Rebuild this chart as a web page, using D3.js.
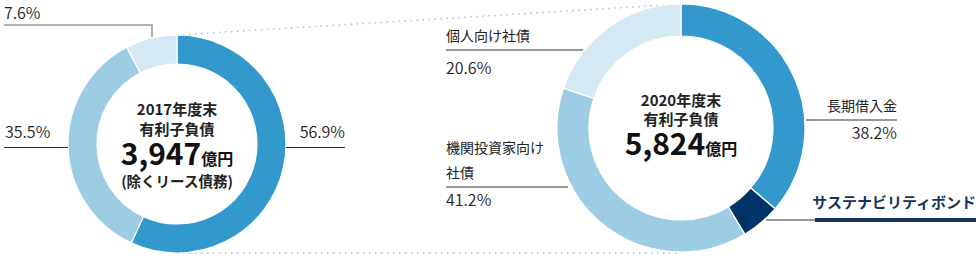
<!DOCTYPE html>
<html>
<head>
<meta charset="utf-8">
<script src="https://cdn.jsdelivr.net/npm/d3@7"></script>
<style>
body { margin: 0; background: #fff; }
svg { display: block; font-family: "Noto Sans CJK JP", "Noto Sans", sans-serif; }
</style>
</head>
<body>
<svg id="chart" width="980" height="260"></svg>
<script>
// 2017 donut
var leftNames = ["長期借入金", "機関投資家向け社債", "個人向け社債"];
var leftValues = [56.9, 35.5, 7.6];
var leftLabels = ["56.9%", "35.5%", "7.6%"];

// 2020 donut (arc sizes as drawn in the picture)
var rightNames = ["長期借入金", "サステナビリティボンド", "機関投資家向け社債", "個人向け社債"];
var rightValues = [36.3, 5.1, 38.8, 19.8];
var rightLabels = ["38.2%", "", "41.2%", "20.6%"];

var colors = ["#3399cc", "#9ccde5", "#d5e9f5"];
var rightColors = ["#3399cc", "#003366", "#9ccde5", "#d5e9f5"];
var navy = "#15355f";

var svg = d3.select("#chart");
var pie = d3.pie().sort(null).value(function (d) { return d; });

// dotted connectors
var dots = svg.append("g")
    .attr("stroke", "#bbb")
    .attr("stroke-width", 1.5)
    .attr("stroke-dasharray", "1.5,4.5");
dots.append("line").attr("x1", 177).attr("y1", 35).attr("x2", 681).attr("y2", 4);
dots.append("line").attr("x1", 177).attr("y1", 253).attr("x2", 681).attr("y2", 253);

function donut(cx, cy, r0, r1, values, cols) {
    var arc = d3.arc().innerRadius(r0).outerRadius(r1);
    var g = svg.append("g").attr("transform", "translate(" + cx + "," + cy + ")");
    g.append("circle").attr("r", r0).attr("fill", "#fff");
    g.selectAll("path")
        .data(pie(values))
        .enter().append("path")
        .attr("d", arc)
        .attr("fill", function (d, i) { return cols[i]; })
        .attr("stroke", "#fff")
        .attr("stroke-width", 1.2);
    return g;
}

var gl = donut(177, 144, 80, 109, leftValues, colors);
var gr = donut(681, 128, 92, 124, rightValues, rightColors);

function txt(g, x, y, s, size, weight, anchor, fill) {
    return g.append("text")
        .attr("x", x).attr("y", y)
        .attr("font-size", size)
        .attr("font-weight", weight || 400)
        .attr("text-anchor", anchor || "start")
        .attr("fill", fill || "#222")
        .text(s);
}

// centre text, left
txt(gl, 0, -29, "2017年度末", 15, 700, "middle");
txt(gl, 0, -9, "有利子負債", 15, 700, "middle");
var big = gl.append("text").attr("y", 21).attr("text-anchor", "middle").attr("fill", "#111").attr("font-weight", 700);
big.append("tspan").attr("font-size", 30).text("3,947");
big.append("tspan").attr("font-size", 16).text("億円");
txt(gl, 0, 43, "(除くリース債務)", 14.5, 700, "middle");

// centre text, right
txt(gr, 0, -22, "2020年度末", 15, 700, "middle");
txt(gr, 0, -3, "有利子負債", 15, 700, "middle");
var big2 = gr.append("text").attr("y", 27).attr("text-anchor", "middle").attr("fill", "#111").attr("font-weight", 700);
big2.append("tspan").attr("font-size", 30).text("5,824");
big2.append("tspan").attr("font-size", 16).text("億円");

// left labels
var lab = svg.append("g");
txt(lab, 4, 19, leftLabels[2], 16, 350);
lab.append("path").attr("d", "M4,25H152V37").attr("fill", "none").attr("stroke", "#999").attr("stroke-width", 1.5);
txt(lab, 5, 138, leftLabels[1], 16, 350);
lab.append("line").attr("x1", 4).attr("x2", 68).attr("y1", 147.5).attr("y2", 147.5).attr("stroke", "#333").attr("stroke-width", 1);
txt(lab, 345, 138, leftLabels[0], 16, 350, "end");
lab.append("line").attr("x1", 286).attr("x2", 345).attr("y1", 147.5).attr("y2", 147.5).attr("stroke", "#333").attr("stroke-width", 1);

// right labels
function grey(x1, x2, y) {
    lab.append("line").attr("x1", x1).attr("x2", x2).attr("y1", y).attr("y2", y)
        .attr("stroke", "#999").attr("stroke-width", 2);
}
txt(lab, 446, 41, rightNames[3], 14);
grey(446, 583, 50);
txt(lab, 446, 74, rightLabels[3], 16, 350);

txt(lab, 446, 153, "機関投資家向け", 14);
txt(lab, 446, 178, "社債", 14);
grey(446, 568, 187);
txt(lab, 446, 206, rightLabels[2], 16, 350);

txt(lab, 897, 111, rightNames[0], 14, 400, "end");
grey(806, 897, 120);
txt(lab, 897, 139, rightLabels[0], 16, 350, "end");

txt(lab, 976, 208, rightNames[1], 15, 700, "end", navy);
grey(766, 815, 220);
lab.append("line").attr("x1", 815).attr("x2", 976).attr("y1", 220).attr("y2", 220)
    .attr("stroke", navy).attr("stroke-width", 4);
</script>
</body>
</html>
